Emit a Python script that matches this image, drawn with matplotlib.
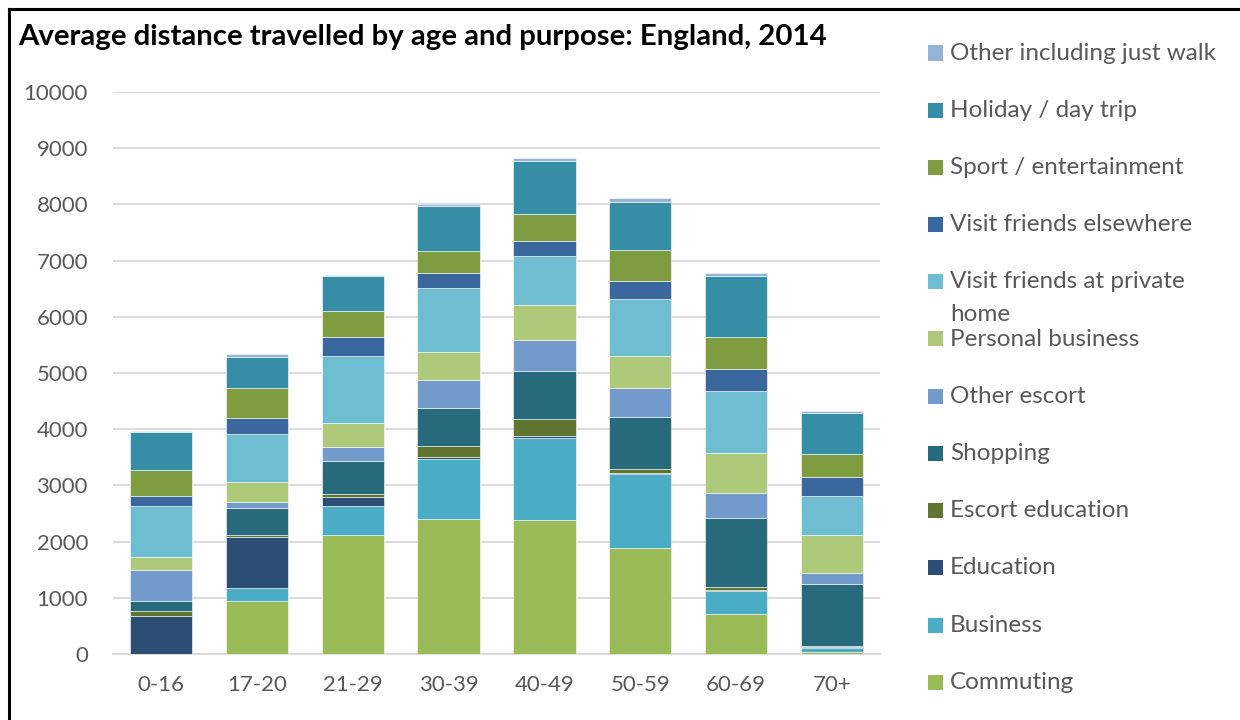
import matplotlib
matplotlib.use("Agg")
import matplotlib.pyplot as plt
from matplotlib.patches import Rectangle
from matplotlib.lines import Line2D
import numpy as np

categories = ['0-16', '17-20', '21-29', '30-39', '40-49', '50-59', '60-69', '70+']

commuting = [0, 937, 2113, 2409, 2381, 1888, 706, 42]
business = [0, 237, 516, 1063, 1461, 1319, 422, 71]
education = [670, 913, 172, 29, 30, 10, 5, 5]
escort_education = [89, 29, 48, 196, 314, 79, 59, 30]
shopping = [178, 486, 587, 689, 850, 920, 1222, 1104]
other_escort = [557, 95, 249, 498, 552, 517, 446, 196]
personal_business = [225, 368, 422, 493, 623, 576, 712, 671]
visit_private = [919, 850, 1193, 1139, 867, 1015, 1115, 700]
visit_elsewhere = [166, 290, 332, 267, 274, 309, 386, 332]
sport = [468, 523, 469, 392, 481, 564, 570, 416]
holiday = [670, 562, 617, 802, 932, 849, 1080, 730]
other_walk = [25, 55, 30, 30, 53, 60, 59, 35]

series_names = ['Commuting', 'Business', 'Education', 'Escort education', 'Shopping',
                'Other escort', 'Personal business', 'Visit friends at private\nhome',
                'Visit friends elsewhere', 'Sport / entertainment', 'Holiday / day trip',
                'Other including just walk']
series_values = [commuting, business, education, escort_education, shopping, other_escort,
                 personal_business, visit_private, visit_elsewhere, sport, holiday, other_walk]
series_colors = ['#9BBB59', '#4BACC6', '#2C4D75', '#5F7530', '#276A7C', '#729ACA',
                 '#AFC97A', '#6FBDD1', '#3A679D', '#7F9C41', '#358EA6', '#95B3D7']

yticks = [0, 1000, 2000, 3000, 4000, 5000, 6000, 7000, 8000, 9000, 10000]
title = 'Average distance travelled by age and purpose: England, 2014'

FONT = 'Lato'
TXT = '#595959'
W, H = 1240, 720
fig = plt.figure(figsize=(W / 100, H / 100), dpi=100)
ax = fig.add_axes([113 / W, 66 / H, (880 - 113) / W, (654 - 92) / H])

x = np.arange(len(categories))
bottom = np.zeros(len(categories))
for vals, col, name in zip(series_values, series_colors, series_names):
    v = np.array(vals, dtype=float)
    ax.bar(x, v, width=0.65, bottom=bottom, color=col, edgecolor='white',
           linewidth=0.4, label=name, zorder=3)
    bottom += v

ax.set_xlim(-0.5, len(categories) - 0.5)
ax.set_ylim(0, 10000)
ax.set_yticks(yticks)
ax.set_yticklabels([str(t) for t in yticks], fontfamily=FONT, fontsize=16, color=TXT)
ax.set_xticks(x)
ax.set_xticklabels(categories, fontfamily=FONT, fontsize=16, color=TXT)
ax.tick_params(axis='y', length=0, pad=18)
ax.tick_params(axis='x', length=0, pad=15)
ax.grid(axis='y', color='#D9D9D9', linewidth=1.3, zorder=0)
for s in ['top', 'right', 'left']:
    ax.spines[s].set_visible(False)
ax.spines['bottom'].set_color('#D9D9D9')
ax.spines['bottom'].set_linewidth(1.3)

fig.text(18 / W, (H - 45) / H, title, fontfamily=FONT, fontweight='bold',
         fontsize=21.2, color='black', va='baseline', ha='left')

# legend (manual, uniform spacing like the original)
leg_y0 = 53
leg_dy = 57.2
for i, (name, col) in enumerate(zip(series_names[::-1], series_colors[::-1])):
    yc = leg_y0 + i * leg_dy
    fig.patches.append(Rectangle((928 / W, (H - yc - 7.5) / H), 15 / W, 15 / H,
                                 transform=fig.transFigure, facecolor=col,
                                 edgecolor='none'))
    lines = name.split('\n')
    for j, ln in enumerate(lines):
        fig.text(950 / W, (H - yc - j * 33) / H, ln, fontfamily=FONT, fontsize=17.5,
                 color=TXT, va='center', ha='left')

# outer frame
fig.add_artist(Line2D([9 / W, 9 / W], [0, (H - 8.5) / H], transform=fig.transFigure,
                      color='black', linewidth=2.2))
fig.add_artist(Line2D([9 / W, 1], [(H - 8.5) / H, (H - 8.5) / H], transform=fig.transFigure,
                      color='black', linewidth=2.2))

fig.savefig('out.png', dpi=100)
